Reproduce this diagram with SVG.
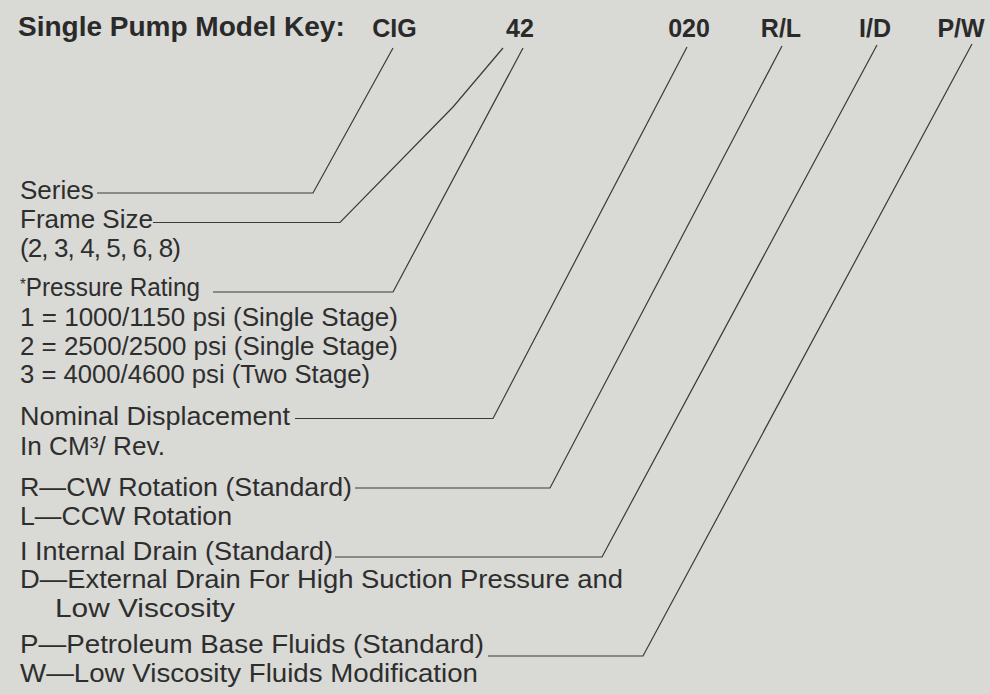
<svg xmlns="http://www.w3.org/2000/svg" width="990" height="694" viewBox="0 0 990 694">
<style>
.bg{fill:#d9d9d6}
.t{font-family:"Liberation Sans",Arial,sans-serif;font-size:26px;fill:#2e2e2e}
.h{font-family:"Liberation Sans",Arial,sans-serif;font-weight:bold;fill:#2a2a2a}
.ld{fill:none;stroke:#3a3a3a;stroke-width:1.2;stroke-linejoin:miter}
</style>
<rect class="bg" x="0" y="0" width="990" height="694"/>
<g id="header">
<text class="h" x="18" y="36" font-size="28">Single Pump Model Key:</text>
</g>
<g id="codes">
<text id="code-cig" class="h" x="394.5" y="37" font-size="25" text-anchor="middle">CIG</text>
<text id="code-42" class="h" x="520" y="37" font-size="25" text-anchor="middle">42</text>
<text id="code-020" class="h" x="689" y="37" font-size="25" text-anchor="middle">020</text>
<text id="code-rl" class="h" x="781" y="37" font-size="25" text-anchor="middle">R/L</text>
<text id="code-id" class="h" x="875" y="37" font-size="25" text-anchor="middle">I/D</text>
<text id="code-pw" class="h" x="961" y="37" font-size="25" text-anchor="middle">P/W</text>
</g>
<g id="series"><text class="t" x="20" y="199">Series</text></g>
<g id="frame-size">
<text class="t" x="20" y="228">Frame Size</text>
<text class="t" x="20" y="257" textLength="161" lengthAdjust="spacing">(2, 3, 4, 5, 6, 8)</text>
</g>
<g id="pressure-rating">
<text class="t" x="20" y="296" textLength="180" lengthAdjust="spacingAndGlyphs"><tspan font-size="16" dy="-6">*</tspan><tspan dy="6">Pressure Rating</tspan></text>
<text class="t" x="20" y="326" textLength="378" lengthAdjust="spacingAndGlyphs">1 = 1000/1150 psi (Single Stage)</text>
<text class="t" x="20" y="355" textLength="378" lengthAdjust="spacingAndGlyphs">2 = 2500/2500 psi (Single Stage)</text>
<text class="t" x="20" y="383" textLength="350" lengthAdjust="spacingAndGlyphs">3 = 4000/4600 psi (Two Stage)</text>
</g>
<g id="displacement">
<text class="t" x="20" y="425" textLength="270" lengthAdjust="spacingAndGlyphs">Nominal Displacement</text>
<text class="t" x="20" y="455" textLength="145" lengthAdjust="spacingAndGlyphs">In CM³/ Rev.</text>
</g>
<g id="rotation">
<text class="t" x="20" y="495.5" textLength="332" lengthAdjust="spacingAndGlyphs">R—CW Rotation (Standard)</text>
<text class="t" x="20" y="524.5" textLength="212" lengthAdjust="spacingAndGlyphs">L—CCW Rotation</text>
</g>
<g id="drain">
<text class="t" x="20" y="560" textLength="313" lengthAdjust="spacingAndGlyphs">I Internal Drain (Standard)</text>
<text class="t" x="20" y="588" textLength="603" lengthAdjust="spacingAndGlyphs">D—External Drain For High Suction Pressure and</text>
<text class="t" x="55" y="617" textLength="180" lengthAdjust="spacingAndGlyphs">Low Viscosity</text>
</g>
<g id="fluids">
<text class="t" x="20" y="653" textLength="464" lengthAdjust="spacingAndGlyphs">P—Petroleum Base Fluids (Standard)</text>
<text class="t" x="20" y="682" textLength="458" lengthAdjust="spacingAndGlyphs">W—Low Viscosity Fluids Modification</text>
</g>
<g id="connectors">
<path class="ld" d="M97,193 H313 L393,48"/>
<path class="ld" d="M153,222.5 H340 L453,107 L503,48"/>
<path class="ld" d="M213,292 H393 L523,48"/>
<path class="ld" d="M295,418.5 H493 L687,47"/>
<path class="ld" d="M355,488 H550 L782,46"/>
<path class="ld" d="M335,557 H602 L877,45"/>
<path class="ld" d="M488,656 H643 L972,44"/>
</g>
</svg>
